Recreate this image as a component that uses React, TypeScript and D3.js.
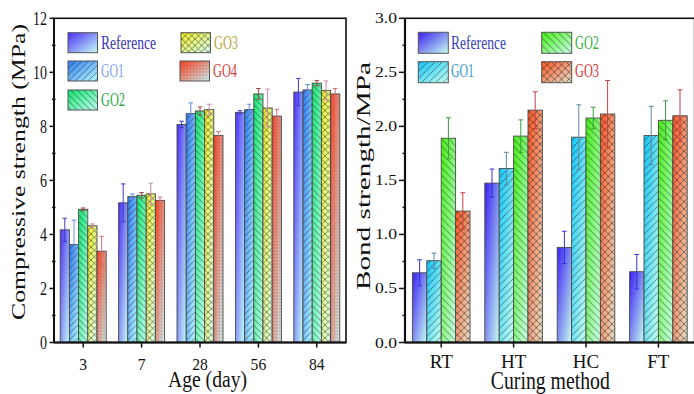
import React from 'react';
import * as d3 from 'd3';

// ---------- Left chart data (compressive strength, MPa) ----------
const ages = ['3', '7', '28', '56', '84'];
const leftSeriesNames = ['Reference', 'GO1', 'GO2', 'GO3', 'GO4'];
const leftRef = [4.17, 5.17, 8.07, 8.52, 9.27];
const leftRefErr = [0.43, 0.7, 0.12, 0.06, 0.5];
const leftGO1 = [3.63, 5.4, 8.47, 8.62, 9.35];
const leftGO1Err = [0.9, 0.1, 0.4, 0.2, 0.2];
const leftGO2 = [4.93, 5.45, 8.57, 9.2, 9.6];
const leftGO2Err = [0.05, 0.1, 0.15, 0.2, 0.1];
const leftGO3 = [4.32, 5.5, 8.62, 8.68, 9.33];
const leftGO3Err = [0.07, 0.4, 0.2, 0.7, 0.35];
const leftGO4 = [3.38, 5.26, 7.66, 8.38, 9.2];
const leftGO4Err = [0.55, 0.12, 0.15, 0.25, 0.2];
const leftTicks = [0, 2, 4, 6, 8, 10, 12];

// ---------- Right chart data (bond strength, MPa) ----------
const methods = ['RT', 'HT', 'HC', 'FT'];
const rightSeriesNames = ['Reference', 'GO1', 'GO2', 'GO3'];
const rightRef = [0.645, 1.475, 0.88, 0.655];
const rightRefErr = [0.12, 0.13, 0.15, 0.16];
const rightGO1 = [0.757, 1.61, 1.9, 1.915];
const rightGO1Err = [0.07, 0.15, 0.3, 0.27];
const rightGO2 = [1.89, 1.91, 2.077, 2.056];
const rightGO2Err = [0.19, 0.15, 0.1, 0.18];
const rightGO3 = [1.216, 2.15, 2.114, 2.098];
const rightGO3Err = [0.17, 0.17, 0.31, 0.24];
const rightTicks = ['0.0', '0.5', '1.0', '1.5', '2.0', '2.5', '3.0'];

const FONT = "'Liberation Serif', 'Times New Roman', serif";

type Style = { id: string; c0: string; c1: string; pattern: string | null; err: string; text: string };

const leftStyles: Style[] = [
  { id: 'lref', c0: '#4a2cf6', c1: '#c4fff6', pattern: null, err: '#3a3acc', text: '#3535b8' },
  { id: 'lgo1', c0: '#2a7af2', c1: '#b8fbff', pattern: 'pf6', err: '#6a8ae0', text: '#7e9ff0' },
  { id: 'lgo2', c0: '#0fe46c', c1: '#c0fff2', pattern: 'pb6', err: '#a04848', text: '#2aa84a' },
  { id: 'lgo3', c0: '#f2f01e', c1: '#d8fff6', pattern: 'px6', err: '#c888a8', text: '#b8a838' },
  { id: 'lgo4', c0: '#ff3a18', c1: '#cdeff0', pattern: 'pd', err: '#d07070', text: '#d83a3a' },
];
const rightStyles: Style[] = [
  { id: 'rref', c0: '#3a1ef2', c1: '#c6fff0', pattern: null, err: '#3434d8', text: '#3340b8' },
  { id: 'rgo1', c0: '#12c4f6', c1: '#c8fff0', pattern: 'pf7', err: '#5a88a8', text: '#3a98c8' },
  { id: 'rgo2', c0: '#44ee12', c1: '#caffea', pattern: 'pb7', err: '#3c9c3c', text: '#38b038' },
  { id: 'rgo3', c0: '#ff5424', c1: '#e6e2c8', pattern: 'px7', err: '#c84040', text: '#d83434' },
];

function T({ x, y, text, fs, len, anchor = 'start', fill = '#111', rot = false }: any) {
  return (
    <text
      x={x}
      y={y}
      fontSize={fs}
      fontFamily={FONT}
      textAnchor={anchor}
      fill={fill}
      textLength={len}
      lengthAdjust={len ? 'spacingAndGlyphs' : undefined}
      transform={rot ? `rotate(-90 ${x} ${y})` : undefined}
    >
      {text}
    </text>
  );
}

function hatch(id: string, s: number, fwd: boolean, back: boolean) {
  const d: string[] = [];
  if (fwd) d.push(`M0,${s} L${s},0 M${-s / 4},${s / 4} L${s / 4},${-s / 4} M${(3 * s) / 4},${(5 * s) / 4} L${(5 * s) / 4},${(3 * s) / 4}`);
  if (back) d.push(`M0,0 L${s},${s} M${-s / 4},${(3 * s) / 4} L${s / 4},${(5 * s) / 4} M${(3 * s) / 4},${-s / 4} L${(5 * s) / 4},${s / 4}`);
  return (
    <pattern id={id} key={id} patternUnits="userSpaceOnUse" width={s} height={s}>
      <path d={d.join(' ')} stroke="#1e1e1e" strokeWidth={0.6} strokeOpacity={0.85} fill="none" />
    </pattern>
  );
}

function Bar({ x, y, w, h, st }: { x: number; y: number; w: number; h: number; st: Style }) {
  return (
    <g>
      <rect x={x} y={y} width={w} height={h} fill={`url(#g-${st.id})`} />
      {st.pattern && <rect x={x} y={y} width={w} height={h} fill={`url(#${st.pattern})`} />}
      <rect x={x} y={y} width={w} height={h} fill="none" stroke="#4a4a4a" strokeWidth={0.9} />
    </g>
  );
}

function ErrBar({ cx, yTop, yBot, color, cap }: any) {
  return (
    <g stroke={color} strokeWidth={1}>
      <line x1={cx} x2={cx} y1={yTop} y2={yBot} />
      <line x1={cx - cap / 2} x2={cx + cap / 2} y1={yTop} y2={yTop} />
      <line x1={cx - cap / 2} x2={cx + cap / 2} y1={yBot} y2={yBot} />
    </g>
  );
}

export default function App() {
  const top = 18.3;
  const bottom = 342.5;

  // Left chart scales
  const lx0 = 54, lx1 = 346;
  const lx = d3.scaleBand<string>().domain(ages).range([lx0, lx1]).padding(0);
  const lbw = lx.bandwidth();
  const lInner = d3.scaleBand<string>().domain(leftSeriesNames).range([(lbw - 46) / 2, (lbw + 46) / 2]).padding(0);
  const ly = d3.scaleLinear().domain([0, 12]).range([bottom, top]);
  const leftVals = [leftRef, leftGO1, leftGO2, leftGO3, leftGO4];
  const leftErrs = [leftRefErr, leftGO1Err, leftGO2Err, leftGO3Err, leftGO4Err];

  // Right chart scales
  const rx0 = 405, rx1 = 694.6;
  const rx = d3.scaleBand<string>().domain(methods).range([rx0, rx1]).padding(0);
  const rbw = rx.bandwidth();
  const rInner = d3.scaleBand<string>().domain(rightSeriesNames).range([(rbw - 57.6) / 2, (rbw + 57.6) / 2]).padding(0);
  const ry = d3.scaleLinear().domain([0, 3]).range([bottom, top]);
  const rightVals = [rightRef, rightGO1, rightGO2, rightGO3];
  const rightErrs = [rightRefErr, rightGO1Err, rightGO2Err, rightGO3Err];

  const allStyles = [...leftStyles, ...rightStyles];

  const leftMinor = d3.range(1, 12, 2);
  const rightMinor = d3.range(0.25, 3, 0.5);

  const leftLegend = [
    { s: 0, x: 68, y: 32.7, tx: 101, ty: 49 },
    { s: 1, x: 68, y: 61, tx: 101, ty: 77.3 },
    { s: 2, x: 68, y: 90, tx: 101, ty: 106 },
    { s: 3, x: 181, y: 32.7, tx: 214, ty: 49 },
    { s: 4, x: 180, y: 61, tx: 213, ty: 77.3 },
  ];
  const rightLegend = [
    { s: 0, x: 418.3, y: 32.3, tx: 451, ty: 49 },
    { s: 1, x: 418.3, y: 61.7, tx: 451, ty: 77.3 },
    { s: 2, x: 541.7, y: 32.3, tx: 575, ty: 49 },
    { s: 3, x: 541.7, y: 61.7, tx: 575, ty: 77.3 },
  ];
  const legendLen: Record<string, number> = { Reference: 55, GO1: 23, GO2: 24, GO3: 24, GO4: 24 };

  return (
    <svg width={694} height={394} style={{ position: 'absolute', left: 0, top: 0, background: '#fff' }}>
      <defs>
        {allStyles.map((st) => (
          <linearGradient key={st.id} id={`g-${st.id}`} x1="0" y1="0" x2="1" y2="1">
            <stop offset="0" stopColor={st.c0} />
            <stop offset="1" stopColor={st.c1} />
          </linearGradient>
        ))}
        {hatch('pf6', 6.5, true, false)}
        {hatch('pb6', 6.5, false, true)}
        {hatch('px6', 6.5, true, true)}
        {hatch('pf7', 7.2, true, false)}
        {hatch('pb7', 7.2, false, true)}
        {hatch('px7', 7.2, true, true)}
        <pattern id="pd" patternUnits="userSpaceOnUse" width={3.2} height={3.2}>
          <circle cx={1.6} cy={1.6} r={0.55} fill="#6a6a6a" />
        </pattern>
      </defs>

      {/* ================= LEFT CHART ================= */}
      {ages.map((a, i) => (
        <g key={a}>
          {leftVals.map((vals, s) => {
            const x = (lx(a) as number) + (lInner(leftSeriesNames[s]) as number);
            const w = lInner.bandwidth();
            return <Bar key={s} x={x} y={ly(vals[i])} w={w} h={bottom - ly(vals[i])} st={leftStyles[s]} />;
          })}
          {leftVals.map((vals, s) => {
            const cx = (lx(a) as number) + (lInner(leftSeriesNames[s]) as number) + lInner.bandwidth() / 2;
            return (
              <ErrBar key={s} cx={cx} yTop={ly(vals[i] + leftErrs[s][i])} yBot={ly(vals[i] - leftErrs[s][i])} color={leftStyles[s].err} cap={4.5} />
            );
          })}
        </g>
      ))}
      {/* frame */}
      <rect x={lx0} y={top} width={lx1 - lx0} height={bottom - top} fill="none" stroke="#111" strokeWidth={1.6} />
      <line x1={lx0} x2={lx0} y1={top} y2={bottom} stroke="#111" strokeWidth={2} />
      <line x1={lx0} x2={lx1} y1={bottom} y2={bottom} stroke="#111" strokeWidth={2} />
      {/* y ticks */}
      {leftTicks.map((t) => (
        <g key={t}>
          <line x1={lx0 - 4.5} x2={lx0} y1={ly(t)} y2={ly(t)} stroke="#111" strokeWidth={1.5} />
          <T x={47} y={ly(t) + 6.2} text={String(t)} fs={18.5} len={String(t).length * 7} anchor="end" />
        </g>
      ))}
      {leftMinor.map((t) => (
        <line key={t} x1={lx0 - 2} x2={lx0 + 1.5} y1={ly(t)} y2={ly(t)} stroke="#111" strokeWidth={1.5} />
      ))}
      {/* x ticks */}
      {ages.map((a) => {
        const cx = (lx(a) as number) + lbw / 2;
        return (
          <g key={a}>
            <line x1={cx} x2={cx} y1={bottom} y2={bottom + 5} stroke="#111" strokeWidth={1.5} />
            <T x={cx} y={370} text={a} fs={17.5} len={a.length * 7.8} anchor="middle" />
          </g>
        );
      })}
      <T x={207.5} y={387} text="Age (day)" fs={24} len={79} anchor="middle" />
      <T x={25} y={172} text="Compressive strength (MPa)" fs={18.6} len={296} anchor="middle" rot />
      {/* legend */}
      {leftLegend.map((l) => {
        const st = leftStyles[l.s];
        const name = leftSeriesNames[l.s];
        return (
          <g key={name}>
            <rect x={l.x} y={l.y} width={29.5} height={20} fill={`url(#g-${st.id})`} />
            {st.pattern && <rect x={l.x} y={l.y} width={29.5} height={20} fill={`url(#${st.pattern})`} />}
            <rect x={l.x} y={l.y} width={29.5} height={20} fill="none" stroke="#555" strokeWidth={1} />
            <T x={l.tx} y={l.ty} text={name} fs={18.5} len={legendLen[name]} fill={st.text} />
          </g>
        );
      })}

      {/* ================= RIGHT CHART ================= */}
      {methods.map((m, i) => (
        <g key={m}>
          {rightVals.map((vals, s) => {
            const x = (rx(m) as number) + (rInner(rightSeriesNames[s]) as number);
            const w = rInner.bandwidth();
            return <Bar key={s} x={x} y={ry(vals[i])} w={w} h={bottom - ry(vals[i])} st={rightStyles[s]} />;
          })}
          {rightVals.map((vals, s) => {
            const cx = (rx(m) as number) + (rInner(rightSeriesNames[s]) as number) + rInner.bandwidth() / 2;
            return (
              <ErrBar key={s} cx={cx} yTop={ry(vals[i] + rightErrs[s][i])} yBot={ry(vals[i] - rightErrs[s][i])} color={rightStyles[s].err} cap={4.8} />
            );
          })}
        </g>
      ))}
      <rect x={rx0} y={top} width={rx1 - rx0} height={bottom - top} fill="none" stroke="#111" strokeWidth={1.6} />
      <line x1={rx0} x2={rx0} y1={top} y2={bottom} stroke="#111" strokeWidth={2.2} />
      <line x1={rx0} x2={rx1} y1={bottom} y2={bottom} stroke="#111" strokeWidth={2.2} />
      {rightTicks.map((t) => {
        const v = +t;
        return (
          <g key={t}>
            <line x1={rx0 - 6} x2={rx0} y1={ry(v)} y2={ry(v)} stroke="#111" strokeWidth={1.5} />
            <T x={397} y={ry(v) + 5} text={t} fs={15.5} len={22} anchor="end" />
          </g>
        );
      })}
      {rightMinor.map((t) => (
        <line key={t} x1={rx0 - 2.5} x2={rx0 + 1} y1={ry(t)} y2={ry(t)} stroke="#111" strokeWidth={1.5} />
      ))}
      {methods.map((m) => {
        const cx = (rx(m) as number) + rbw / 2;
        return (
          <g key={m}>
            <line x1={cx} x2={cx} y1={bottom} y2={bottom + 5} stroke="#111" strokeWidth={1.5} />
            <T x={cx} y={368} text={m} fs={19} anchor="middle" />
          </g>
        );
      })}
      <T x={550.3} y={389} text="Curing method" fs={24.5} len={119} anchor="middle" />
      <T x={370} y={176} text="Bond strength/MPa" fs={18.5} len={228} anchor="middle" rot />
      {rightLegend.map((l) => {
        const st = rightStyles[l.s];
        const name = rightSeriesNames[l.s];
        return (
          <g key={name}>
            <rect x={l.x} y={l.y} width={30} height={21} fill={`url(#g-${st.id})`} />
            {st.pattern && <rect x={l.x} y={l.y} width={30} height={21} fill={`url(#${st.pattern})`} />}
            <rect x={l.x} y={l.y} width={30} height={21} fill="none" stroke="#555" strokeWidth={1} />
            <T x={l.tx} y={l.ty} text={name} fs={18.5} len={legendLen[name]} fill={st.text} />
          </g>
        );
      })}
    </svg>
  );
}
